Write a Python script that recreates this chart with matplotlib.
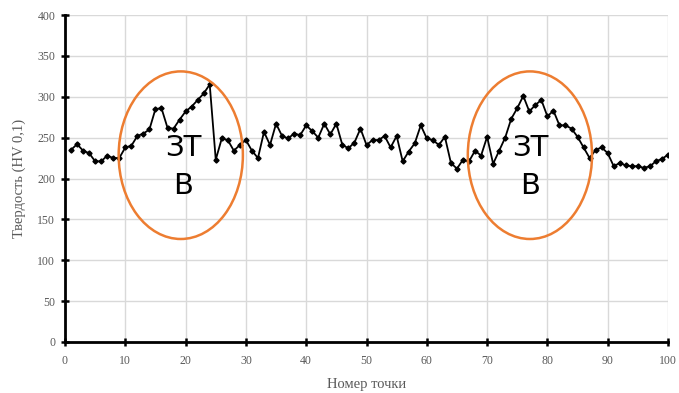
import matplotlib
matplotlib.use("Agg")
import matplotlib.pyplot as plt
from matplotlib.patches import Ellipse

# Microhardness profile across the weld
point_no = list(range(1, 101))
hardness = [
    235, 242, 234, 231, 221, 221, 228, 225, 225, 238,
    240, 252, 255, 260, 285, 286, 262, 261, 272, 282,
    288, 296, 304, 315, 223, 249, 247, 234, 241, 247,
    234, 225, 257, 241, 267, 252, 249, 255, 253, 265,
    258, 250, 267, 254, 267, 241, 237, 244, 261, 241,
    247, 247, 252, 238, 252, 221, 233, 243, 265, 249,
    247, 241, 251, 219, 212, 223, 221, 234, 228, 251,
    218, 234, 250, 273, 286, 301, 282, 290, 296, 276,
    283, 265, 265, 261, 251, 238, 225, 235, 238, 231,
    215, 219, 216, 215, 215, 213, 215, 221, 224, 229,
]

# Heat-affected zones: (centre x, centre y, width, height)
zone_centers_x = [19.2, 77.1]
zone_center_y = 228.5
zone_width = 20.6
zone_height = 205.0
zone_label = "ЗТ\nВ"
zone_label_x = [19.6, 77.1]
zone_label_y = 214.5

x_ticks = list(range(0, 101, 10))
y_ticks = list(range(0, 401, 50))

fig = plt.figure(figsize=(6.79, 3.93), dpi=100)
ax = fig.add_axes([65 / 679, 51 / 393, 603 / 679, 327 / 393])

ax.set_xlim(0, 100)
ax.set_ylim(0, 400)
ax.set_xticks(x_ticks)
ax.set_yticks(y_ticks)
ax.grid(True, color="#d9d9d9", linewidth=1.0, zorder=0)
ax.set_axisbelow(True)

for side in ("top", "right"):
    ax.spines[side].set_visible(False)
for side in ("left", "bottom"):
    ax.spines[side].set_color("black")
    ax.spines[side].set_linewidth(2.0)

ax.tick_params(axis="both", direction="inout", length=6, width=1.8,
               color="black", labelcolor="#595959", labelsize=8.5)
for lbl in ax.get_xticklabels() + ax.get_yticklabels():
    lbl.set_family("Liberation Serif")
ax.tick_params(axis="x", pad=6)
ax.tick_params(axis="y", pad=4)

ax.plot(point_no, hardness, color="black", linewidth=1.3,
        marker="D", markersize=2.6, zorder=3)

for cx, tx in zip(zone_centers_x, zone_label_x):
    ax.add_patch(Ellipse((cx, zone_center_y), zone_width, zone_height,
                         fill=False, edgecolor="#ED7D31", linewidth=1.8, zorder=4))
    ax.text(tx, zone_label_y, zone_label, ha="center", va="center",
            fontsize=21, family="DejaVu Sans", color="black",
            linespacing=1.45, zorder=5)

ax.set_xlabel("Номер точки", family="Liberation Serif", fontsize=10.5,
              color="#595959", labelpad=8)
ax.set_ylabel("Твердость (HV 0,1)", family="Liberation Serif", fontsize=10.5,
              color="#595959", labelpad=8)

fig.savefig("out.png", dpi=100)
